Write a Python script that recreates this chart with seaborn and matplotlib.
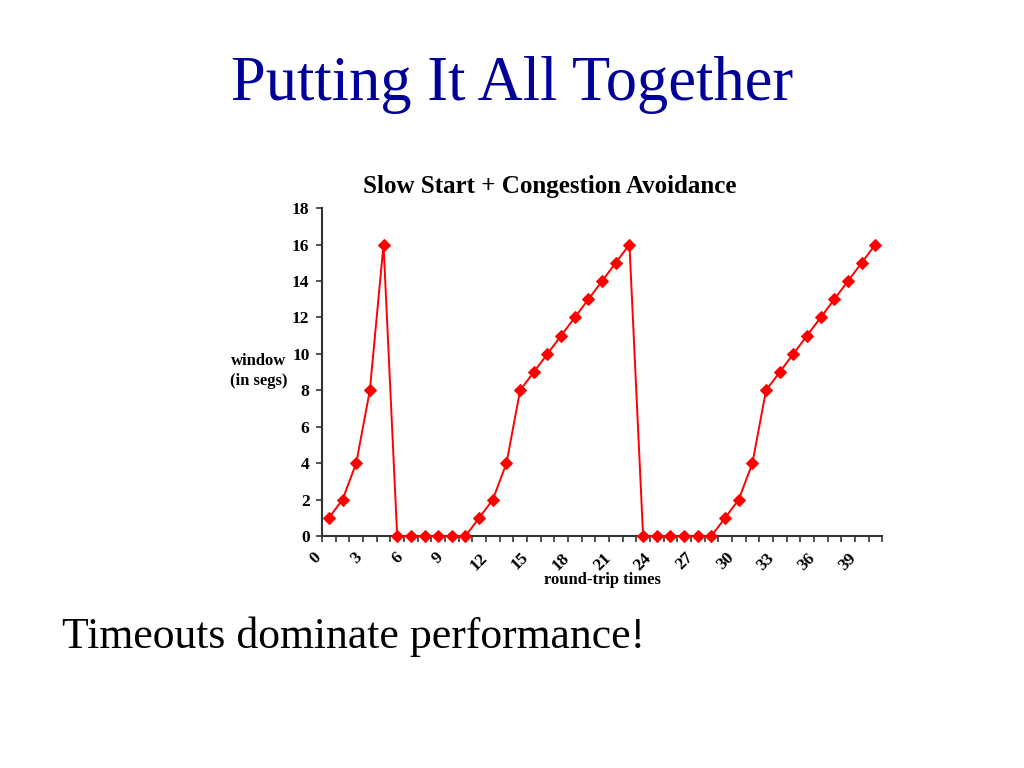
import matplotlib
matplotlib.use("Agg")
import matplotlib.pyplot as plt
import seaborn as sns
import pandas as pd

# congestion window per round-trip time
rtt = list(range(1, 42))
window = [1, 2, 4, 8, 16,
          0, 0, 0, 0, 0, 0,
          1, 2, 4, 8, 9, 10, 11, 12, 13, 14, 15, 16,
          0, 0, 0, 0, 0, 0,
          1, 2, 4, 8, 9, 10, 11, 12, 13, 14, 15, 16]
x_tick_labels = list(range(0, 42, 3))
y_ticks = list(range(0, 19, 2))

slide_title = "Putting It All Together"
chart_title = "Slow Start + Congestion Avoidance"
footer = "Timeouts dominate performance!"

sns.set_style("white")
plt.rcParams['font.family'] = ['Liberation Serif', 'DejaVu Serif']
plt.rcParams['text.color'] = 'black'
plt.rcParams['xtick.color'] = 'black'
plt.rcParams['ytick.color'] = 'black'

df = pd.DataFrame({"rtt": rtt, "window": window})

fig = plt.figure(figsize=(10.24, 7.68), dpi=100)
ax = fig.add_axes([0.3145, 0.302, 0.547, 0.427])

sns.lineplot(data=df, x="rtt", y="window", ax=ax, color="#ff0000",
             linewidth=1.4, marker="D", markersize=6.3,
             markeredgecolor="#ff0000", markerfacecolor="#ff0000")
# keep the markers sitting on y=0 whole, drawn over the axis line
for line in ax.get_lines():
    line.set_clip_on(False)
    line.set_zorder(5)

ax.set_xlim(0.5, 41.5)
ax.set_ylim(0, 18)
ax.set_yticks(y_ticks)
ax.set_yticklabels([str(v) for v in y_ticks], fontsize=12.5, fontweight="bold")

# tick marks sit between categories, labels drawn by hand so "0" can sit left of the axis
ax.set_xticks([v + 0.5 for v in range(0, 42)])
ax.set_xticklabels([])
for v in x_tick_labels:
    ax.text(v, -0.75, str(v), transform=ax.transData, rotation=45,
            ha="center", va="top", fontsize=12.5, fontweight="bold",
            clip_on=False)

ax.tick_params(axis="both", direction="out", length=4, width=1.2,
               color="#333333", bottom=True, left=True)
ax.tick_params(axis="y", pad=5)
for side in ["top", "right"]:
    ax.spines[side].set_visible(False)
for side in ["left", "bottom"]:
    ax.spines[side].set_color("#333333")
    ax.spines[side].set_linewidth(1.5)

ax.set_xlabel("")
ax.set_ylabel("")
fig.text(602 / 1024, 1 - 580 / 768, "round-trip times", ha="center", va="center",
         fontsize=12, fontweight="bold")
fig.text(259 / 1024, 1 - 371 / 768, "window\n(in segs)", ha="center", va="center",
         fontsize=12, fontweight="bold", linespacing=1.3)

fig.text(550 / 1024, 1 - 187 / 768, chart_title, ha="center", va="center",
         fontsize=18, fontweight="bold")
fig.text(512 / 1024, 1 - 85 / 768, slide_title, ha="center", va="center",
         fontsize=45, color="#000099")
fig.text(62 / 1024, 1 - 637 / 768, footer, ha="left", va="center",
         fontsize=31.5, color="black")

fig.savefig("out.png", dpi=100)
